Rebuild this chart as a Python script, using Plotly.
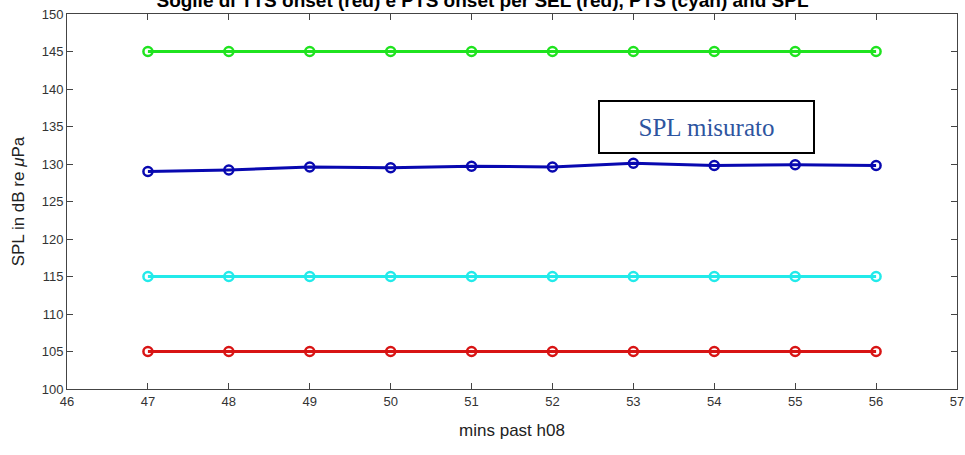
import plotly.graph_objects as go

minutes = [47, 48, 49, 50, 51, 52, 53, 54, 55, 56]
green_vals = [145] * 10
blue_vals = [129.0, 129.2, 129.6, 129.5, 129.7, 129.6, 130.1, 129.8, 129.9, 129.8]
cyan_vals = [115] * 10
red_vals = [105] * 10

x_ticks = list(range(46, 58))
y_ticks = list(range(100, 151, 5))

series = [
    (green_vals, "#1fe31f"),
    (blue_vals, "#0808b0"),
    (cyan_vals, "#22eaea"),
    (red_vals, "#d81414"),
]

fig = go.Figure()
for vals, col in series:
    fig.add_trace(go.Scatter(
        x=minutes, y=vals, mode="lines+markers",
        line=dict(color=col, width=3),
        marker=dict(symbol="circle-open", size=9, color=col, line=dict(width=2.5, color=col)),
        showlegend=False, hoverinfo="skip",
    ))

axis_common = dict(
    showgrid=False, zeroline=False, showline=True, mirror="ticks",
    linecolor="#444", linewidth=1, ticks="inside", ticklen=6, tickcolor="#444",
    automargin=False,
    tickfont=dict(family="Liberation Sans, Arial", size=13, color="#333"),
)

fig.update_layout(
    width=965, height=455,
    margin=dict(l=67, r=8, t=14, b=66),
    paper_bgcolor="white", plot_bgcolor="white",
    title=dict(
        text="<b>Soglie di TTS onset (red) e PTS onset per SEL (red), PTS (cyan) and SPL</b>",
        x=0.5, xanchor="center", y=1.0, yanchor="middle", yref="container",
        font=dict(family="Liberation Sans, Arial", size=19, color="black"),
    ),
    xaxis=dict(range=[46, 57], tickvals=x_ticks,
               title=dict(text="mins past h08", font=dict(family="Liberation Sans, Arial", size=17, color="#222"), standoff=16),
               **axis_common),
    yaxis=dict(range=[100, 150], tickvals=y_ticks,
               title=dict(text="SPL in dB re <i>μ</i>Pa", font=dict(family="Liberation Sans, Arial", size=17, color="#222"), standoff=12),
               **axis_common),
)

fig.add_annotation(
    x=53.91, y=134.9, xref="x", yref="y",
    text="SPL misurato", showarrow=False,
    font=dict(family="Liberation Serif, Times New Roman", size=25, color="#2e55a0"),
    bordercolor="black", borderwidth=2, borderpad=0,
    bgcolor="white", width=213, height=50,
)

fig.write_html("out.html")
